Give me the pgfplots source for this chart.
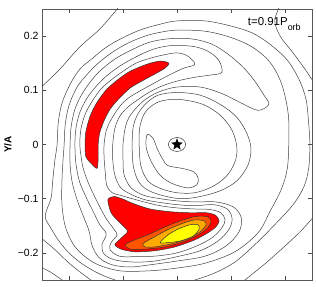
\documentclass[border=0pt]{standalone}
\usepackage{fontspec}
\setmainfont{Liberation Sans}
\usepackage{pgfplots}
\pgfplotsset{compat=1.18}
\pgfdeclareplotmark{fstar}{%
  \pgfpathmoveto{\pgfpointpolar{90}{\pgfplotmarksize}}%
  \pgfpathlineto{\pgfpointpolar{126}{0.42\pgfplotmarksize}}%
  \pgfpathlineto{\pgfpointpolar{162}{\pgfplotmarksize}}%
  \pgfpathlineto{\pgfpointpolar{198}{0.42\pgfplotmarksize}}%
  \pgfpathlineto{\pgfpointpolar{234}{\pgfplotmarksize}}%
  \pgfpathlineto{\pgfpointpolar{270}{0.42\pgfplotmarksize}}%
  \pgfpathlineto{\pgfpointpolar{306}{\pgfplotmarksize}}%
  \pgfpathlineto{\pgfpointpolar{342}{0.42\pgfplotmarksize}}%
  \pgfpathlineto{\pgfpointpolar{18}{\pgfplotmarksize}}%
  \pgfpathlineto{\pgfpointpolar{54}{0.42\pgfplotmarksize}}%
  \pgfpathclose
  \pgfusepathqfillstroke}
\definecolor{ored}{RGB}{255,85,0}
\definecolor{oran}{RGB}{255,170,0}
\definecolor{yell}{RGB}{255,255,0}
\pgfplotsset{
  cl/.style={draw=black!75, line width=0.5bp, smooth, tension=0.55, forget plot},
  cc/.style={draw=black!75, line width=0.5bp, smooth cycle, tension=0.55, forget plot},
  fc/.style={draw=black!80, line width=0.5bp, smooth cycle, tension=0.45, forget plot},
}
\begin{document}
\begin{tikzpicture}
\begin{axis}[
  width=270bp, height=271bp, scale only axis,
  xmin=-0.25, xmax=0.25, ymin=-0.25, ymax=0.25,
  xtick={-0.2,-0.1,0,0.1,0.2}, xticklabels={},
  ytick={-0.2,-0.1,0,0.1,0.2},
  yticklabels={−0.2,−0.1,0,0.1,0.2},
  tick align=inside, major tick length=4bp,
  tick style={black!70, line width=0.5bp},
  axis line style={black!65, line width=0.7bp},
  ticklabel style={font=\fontsize{10.5}{12}\selectfont},
  ylabel={\bfseries Y/A},
  ylabel style={at={(axis description cs:-0.126,0.5)}, anchor=center, font=\fontsize{10}{12}\selectfont},
]
\coordinate (SW) at (rel axis cs:0,0);
\coordinate (NE) at (rel axis cs:1,1);
% filled regions
\addplot[fc, fill=red] coordinates {
(-0.015,0.150)(-0.031,0.154)(-0.056,0.148)(-0.087,0.135)(-0.109,0.120)(-0.130,0.102)(-0.148,0.078)(-0.161,0.052)(-0.169,0.022)(-0.170,0.000)(-0.169,-0.022)(-0.159,-0.035)(-0.148,-0.044)(-0.146,-0.024)(-0.146,0.000)(-0.143,0.022)(-0.135,0.044)(-0.124,0.065)(-0.109,0.083)(-0.087,0.104)(-0.065,0.117)(-0.041,0.130)(-0.022,0.141)};
\addplot[fc, fill=red] coordinates {
(-0.128,-0.102)(-0.117,-0.096)(-0.102,-0.100)(-0.081,-0.109)(-0.050,-0.119)(-0.013,-0.124)(0.024,-0.126)(0.056,-0.126)(0.072,-0.131)(0.078,-0.141)(0.072,-0.152)(0.057,-0.163)(0.033,-0.176)(-0.004,-0.189)(-0.041,-0.196)(-0.078,-0.198)(-0.104,-0.193)(-0.115,-0.185)(-0.107,-0.176)(-0.093,-0.163)(-0.093,-0.157)(-0.109,-0.141)(-0.122,-0.126)};
\addplot[fc, fill=ored] coordinates {
(-0.096,-0.185)(-0.078,-0.176)(-0.050,-0.165)(-0.022,-0.152)(0.006,-0.141)(0.033,-0.133)(0.056,-0.133)(0.063,-0.141)(0.057,-0.154)(0.039,-0.167)(0.011,-0.180)(-0.022,-0.189)(-0.059,-0.193)(-0.087,-0.193)};
\addplot[fc, fill=oran] coordinates {
(-0.063,-0.183)(-0.041,-0.170)(-0.017,-0.157)(0.009,-0.146)(0.033,-0.139)(0.050,-0.141)(0.054,-0.148)(0.043,-0.161)(0.020,-0.174)(-0.009,-0.183)(-0.041,-0.189)(-0.059,-0.189)};
\addplot[fc, fill=yell] coordinates {
(-0.031,-0.181)(-0.017,-0.167)(0.002,-0.156)(0.024,-0.148)(0.039,-0.148)(0.041,-0.156)(0.030,-0.169)(0.006,-0.178)(-0.017,-0.181)};
% open lines near the frame
\addplot[cl] coordinates {(-0.261,0.096)(-0.250,0.107)(-0.217,0.139)(-0.180,0.180)(-0.143,0.213)(-0.109,0.252)(-0.100,0.263)};
\addplot[cl] coordinates {(-0.261,-0.221)(-0.257,-0.224)(-0.235,-0.235)(-0.213,-0.250)(-0.202,-0.259)};
\addplot[cl] coordinates {(-0.257,-0.169)(-0.250,-0.174)(-0.226,-0.194)(-0.202,-0.217)(-0.180,-0.235)(-0.157,-0.252)(-0.150,-0.259)};
\addplot[cl] coordinates {(0.189,0.252)(0.181,0.228)(0.191,0.200)(0.215,0.169)(0.237,0.139)(0.252,0.117)(0.261,0.106)};
\addplot[cl] coordinates {(0.261,-0.127)(0.252,-0.135)(0.228,-0.161)(0.196,-0.191)(0.163,-0.220)(0.126,-0.250)(0.117,-0.259)};
% L2
\addplot[cc] coordinates {
(-0.222,0)(-0.220,0.039)(-0.213,0.076)(-0.198,0.111)(-0.180,0.139)(-0.159,0.157)(-0.133,0.178)(-0.106,0.194)(-0.069,0.211)(-0.031,0.222)(0,0.228)(0.052,0.228)(0.098,0.219)(0.139,0.206)(0.172,0.185)(0.204,0.156)(0.226,0.120)(0.239,0.083)(0.244,0.037)(0.246,0)(0.244,-0.043)(0.235,-0.078)(0.215,-0.111)(0.181,-0.148)(0.144,-0.185)(0.107,-0.217)(0.070,-0.237)(0.033,-0.250)(-0.013,-0.263)(-0.069,-0.265)(-0.109,-0.252)(-0.143,-0.239)(-0.176,-0.220)(-0.202,-0.198)(-0.220,-0.176)(-0.235,-0.152)(-0.244,-0.135)(-0.241,-0.120)(-0.233,-0.098)(-0.230,-0.065)(-0.226,-0.028)};
% f
\addplot[cc] coordinates {
(-0.209,0)(-0.207,0.037)(-0.200,0.072)(-0.185,0.106)(-0.165,0.131)(-0.146,0.150)(-0.120,0.170)(-0.091,0.187)(-0.059,0.200)(-0.031,0.207)(0,0.211)(0.052,0.209)(0.098,0.198)(0.139,0.180)(0.172,0.152)(0.194,0.111)(0.206,0.056)(0.207,0)(0.204,-0.046)(0.193,-0.083)(0.172,-0.124)(0.150,-0.163)(0.107,-0.198)(0.052,-0.219)(0,-0.228)(-0.050,-0.233)(-0.106,-0.233)(-0.152,-0.219)(-0.187,-0.191)(-0.206,-0.154)(-0.213,-0.111)(-0.213,-0.065)(-0.211,-0.028)};
% e
\addplot[cc] coordinates {
(0.170,0.074)(0.161,0.091)(0.144,0.117)(0.122,0.143)(0.094,0.167)(0.065,0.185)(0.033,0.194)(0,0.196)(-0.031,0.193)(-0.056,0.187)(-0.085,0.174)(-0.113,0.159)(-0.139,0.139)(-0.157,0.120)(-0.176,0.093)(-0.189,0.065)(-0.196,0.033)(-0.198,0)(-0.198,-0.037)(-0.194,-0.070)(-0.185,-0.102)(-0.174,-0.131)(-0.163,-0.159)(-0.157,-0.187)(-0.144,-0.209)(-0.120,-0.222)(-0.087,-0.226)(-0.050,-0.222)(0,-0.215)(0.052,-0.206)(0.091,-0.187)(0.115,-0.161)(0.119,-0.135)(0.104,-0.115)(0.072,-0.106)(0.033,-0.106)(0,-0.104)(-0.031,-0.100)(-0.061,-0.094)(-0.085,-0.080)(-0.098,-0.056)(-0.100,-0.028)(-0.100,0)(-0.096,0.030)(-0.089,0.050)(-0.074,0.069)(-0.056,0.085)(-0.031,0.098)(0,0.106)(0.043,0.106)(0.083,0.094)(0.120,0.076)(0.150,0.063)};
% c
\addplot[cc] coordinates {
(0.083,0.133)(0.078,0.154)(0.061,0.170)(0.035,0.180)(0,0.183)(-0.028,0.180)(-0.054,0.172)(-0.081,0.159)(-0.107,0.144)(-0.131,0.126)(-0.150,0.107)(-0.167,0.085)(-0.180,0.059)(-0.187,0.031)(-0.189,0)(-0.187,-0.037)(-0.180,-0.070)(-0.167,-0.100)(-0.154,-0.126)(-0.143,-0.148)(-0.131,-0.165)(-0.139,-0.185)(-0.135,-0.202)(-0.115,-0.213)(-0.078,-0.217)(-0.041,-0.215)(0,-0.207)(0.043,-0.196)(0.076,-0.178)(0.096,-0.157)(0.102,-0.137)(0.093,-0.119)(0.067,-0.111)(0.033,-0.113)(0,-0.111)(-0.031,-0.107)(-0.059,-0.102)(-0.083,-0.093)(-0.104,-0.080)(-0.115,-0.057)(-0.119,-0.028)(-0.119,0)(-0.115,0.030)(-0.106,0.052)(-0.091,0.069)(-0.072,0.083)(-0.052,0.096)(-0.030,0.107)(0,0.117)(0.033,0.124)(0.061,0.128)};
% d
\addplot[cc] coordinates {
(0.033,0.148)(0.020,0.163)(0,0.169)(-0.026,0.165)(-0.050,0.159)(-0.076,0.150)(-0.100,0.135)(-0.122,0.119)(-0.141,0.102)(-0.157,0.080)(-0.170,0.056)(-0.178,0.028)(-0.180,0)(-0.178,-0.019)(-0.174,-0.043)(-0.165,-0.069)(-0.154,-0.093)(-0.143,-0.115)(-0.131,-0.137)(-0.117,-0.156)(-0.111,-0.167)(-0.122,-0.181)(-0.124,-0.194)(-0.107,-0.206)(-0.078,-0.207)(-0.041,-0.206)(0,-0.200)(0.037,-0.187)(0.065,-0.172)(0.083,-0.154)(0.089,-0.139)(0.081,-0.126)(0.061,-0.120)(0.033,-0.119)(0,-0.117)(-0.031,-0.113)(-0.057,-0.107)(-0.083,-0.100)(-0.104,-0.094)(-0.120,-0.089)(-0.130,-0.076)(-0.133,-0.050)(-0.135,-0.024)(-0.135,0)(-0.131,0.026)(-0.122,0.046)(-0.107,0.069)(-0.091,0.085)(-0.070,0.098)(-0.050,0.109)(-0.030,0.120)(-0.009,0.131)(0.013,0.141)};
% C2
\addplot[cc] coordinates {
(-0.083,0)(-0.081,0.033)(-0.072,0.057)(-0.057,0.076)(-0.035,0.091)(0,0.096)(0.043,0.091)(0.080,0.074)(0.111,0.050)(0.130,0.019)(0.137,-0.009)(0.131,-0.039)(0.111,-0.067)(0.081,-0.085)(0.043,-0.096)(0.006,-0.100)(-0.031,-0.093)(-0.056,-0.083)(-0.072,-0.067)(-0.081,-0.039)};
% C1
\addplot[cc] coordinates {
(-0.070,0)(-0.069,0.031)(-0.061,0.056)(-0.046,0.072)(-0.026,0.081)(0.006,0.083)(0.048,0.074)(0.080,0.054)(0.102,0.026)(0.111,-0.006)(0.107,-0.033)(0.091,-0.059)(0.065,-0.078)(0.033,-0.089)(0,-0.089)(-0.031,-0.081)(-0.054,-0.067)(-0.067,-0.039)};
% tongue
\addplot[cc] coordinates {
(-0.054,0.019)(-0.044,0.011)(-0.037,-0.007)(-0.026,-0.028)(-0.017,-0.039)(0.009,-0.044)(0.030,-0.050)(0.039,-0.061)(0.037,-0.074)(0.020,-0.080)(-0.009,-0.072)(-0.031,-0.057)(-0.048,-0.031)(-0.057,-0.006)(-0.057,0.011)};
% star circle
\addplot[cc] coordinates {(0.016,0)(0.0115,0.009)(0,0.013)(-0.0115,0.009)(-0.016,0)(-0.0115,-0.009)(0,-0.013)(0.0115,-0.009)};
\addplot[only marks, mark=fstar, mark size=5.5bp, black, forget plot] coordinates {(0,0)};
\node[anchor=base west, font=\fontsize{11.5}{13}\selectfont, inner sep=0pt] at (axis cs:0.131,0.219) {t=0.91P\raisebox{-5bp}{\fontsize{9}{10}\selectfont orb}};
\end{axis}
\pgfresetboundingbox
\path ([shift={(-42bp,-7bp)}]SW) rectangle ([shift={(4bp,9bp)}]NE);
\end{tikzpicture}
\end{document}
